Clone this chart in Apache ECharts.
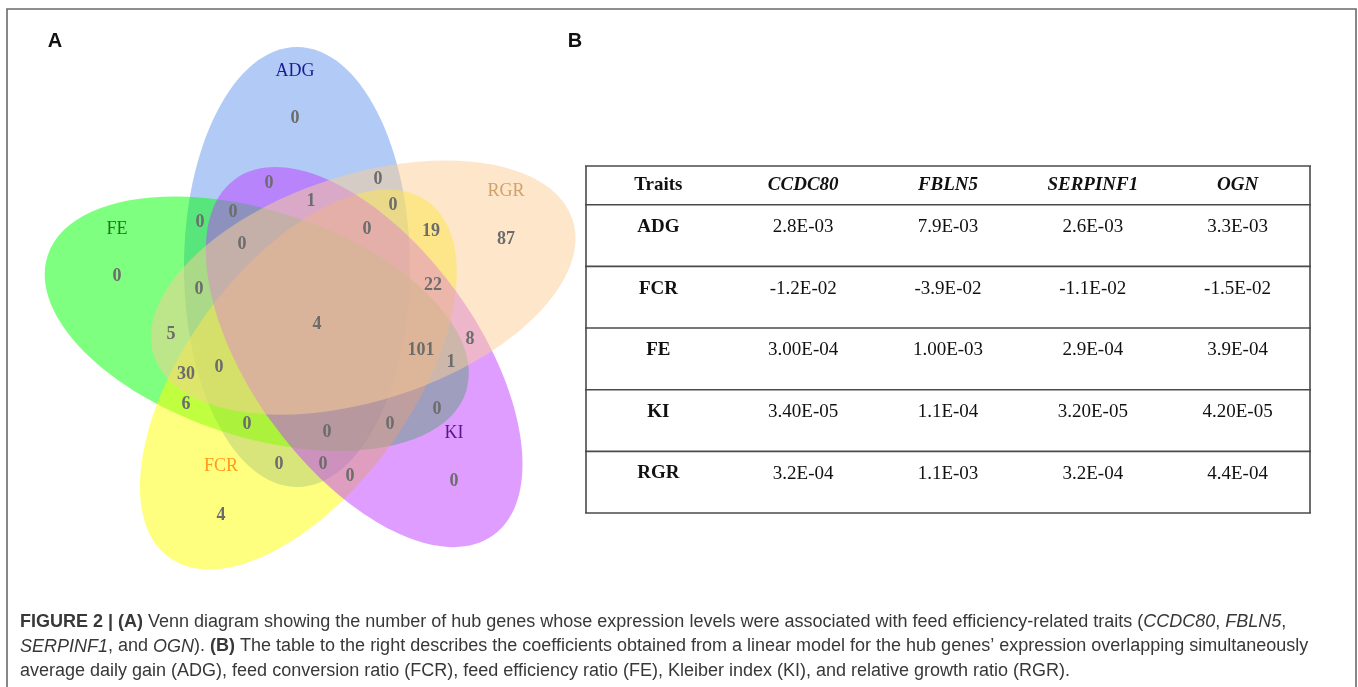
<!DOCTYPE html>
<html>
<head>
<meta charset="utf-8">
<script src="https://cdn.jsdelivr.net/npm/echarts@6/dist/echarts.min.js"></script>
<style>
html,body{margin:0;padding:0;background:#ffffff;}
#chart{width:1358px;height:687px;}
</style>
</head>
<body>
<div id="chart"></div>
<script>
// ---------------- DATA ----------------
// Venn sets (drawing order bottom -> top)
const setNames = ['ADG', 'FE', 'FCR', 'KI', 'RGR'];
const setRotations = [0, 288, 216, 144, 72];          // degrees, clockwise
// region counts (first five = set-only regions: ADG, RGR, KI, FCR, FE)
const regionCounts = [0, 87, 0, 4, 0,
  0, 0, 1, 0, 0, 0, 0, 19, 0, 22, 0, 4, 5, 8, 101, 1, 0, 30, 6, 0, 0, 0, 0, 0, 0, 0];
// table
const tableColumns = ['Traits', 'CCDC80', 'FBLN5', 'SERPINF1', 'OGN'];
const tableTraits = ['ADG', 'FCR', 'FE', 'KI', 'RGR'];
const coefCCDC80 = ['2.8E-03', '-1.2E-02', '3.00E-04', '3.40E-05', '3.2E-04'];
const coefFBLN5 = ['7.9E-03', '-3.9E-02', '1.00E-03', '1.1E-04', '1.1E-03'];
const coefSERPINF1 = ['2.6E-03', '-1.1E-02', '2.9E-04', '3.20E-05', '3.2E-04'];
const coefOGN = ['3.3E-03', '-1.5E-02', '3.9E-04', '4.20E-05', '4.4E-04'];
const captionLines = [
  '{b|FIGURE 2 | (A)} Venn diagram showing the number of hub genes whose expression levels were associated with feed efficiency-related traits ({i|CCDC80}, {i|FBLN5},',
  '{i|SERPINF1}, and {i|OGN}). {b|(B)} The table to the right describes the coefficients obtained from a linear model for the hub genes\u2019 expression overlapping simultaneously',
  'average daily gain (ADG), feed conversion ratio (FCR), feed efficiency ratio (FE), Kleiber index (KI), and relative growth ratio (RGR).'
];

// ---------------- LAYOUT / STYLE ----------------
const ellipseSemi = { major: 220, minor: 113 };
const ellipseOffset = [-19, 56];   // ADG ellipse centre relative to diagram centre (venn units, y up)
const setFill = {
  ADG: 'rgba(100,149,237,0.5)', RGR: 'rgba(252,206,150,0.5)', KI: 'rgba(191,62,255,0.5)',
  FCR: 'rgba(255,255,0,0.5)', FE: 'rgba(0,255,0,0.5)'
};
const setLabelColor = { ADG: '#1c1c96', RGR: '#cfa16c', KI: '#5a168a', FCR: '#ff9a1a', FE: '#197a19' };
const setLabelAnchors = { ADG: [-21, 252], RGR: [190, 132], KI: [138, -110], FCR: [-95, -143], FE: [-199, 94] };
const regionAnchors = [[-21, 205], [190, 84], [138, -158], [-95, -192], [-199, 47],
  [-47, 140], [62, 144], [-5, 122], [77, 118], [-83, 111], [-116, 101], [51, 94], [115, 92], [-74, 79],
  [117, 38], [-117, 34], [1, -1], [-145, -11], [154, -16], [105, -27], [135, -39], [-97, -44],
  [-130, -51], [-130, -81], [121, -86], [-69, -101], [74, -101], [11, -109], [-37, -141], [7, -141], [34, -153]];
const headerRowHeight = 39 / 62;   // in data-row units
const tableHeight = headerRowHeight + tableTraits.length;

// ---------------- BUILD ----------------
const ellipseData = setNames.map((n, i) => {
  const t = setRotations[i] * Math.PI / 180;
  const dx = ellipseOffset[0], dy = ellipseOffset[1];
  return [dx * Math.cos(t) + dy * Math.sin(t), -dx * Math.sin(t) + dy * Math.cos(t),
    ellipseSemi.minor, ellipseSemi.major, setRotations[i], i];
});
const setLabelData = setNames.map(n => setLabelAnchors[n].concat([setNames.indexOf(n)]));
const regionData = regionAnchors.map((p, i) => [p[0], p[1], regionCounts[i]]);

const coefColumns = [coefCCDC80, coefFBLN5, coefSERPINF1, coefOGN];
const cells = [];
tableColumns.forEach((c, ci) => cells.push({ col: ci, y: headerRowHeight / 2, text: c, kind: ci === 0 ? 'headFirst' : 'headGene' }));
tableTraits.forEach((t, ri) => {
  const y = headerRowHeight + ri + 0.36;
  cells.push({ col: 0, y: y, text: t, kind: 'trait' });
  coefColumns.forEach((arr, ci) => cells.push({ col: ci + 1, y: y, text: arr[ri], kind: 'value' }));
});
const rowLines = [0, headerRowHeight];
tableTraits.forEach((t, i) => rowLines.push(headerRowHeight + i + 1));

const serif = '"Liberation Serif","Times New Roman",serif';
const sans = '"Liberation Sans",Arial,Helvetica,sans-serif';

const chart = echarts.init(document.getElementById('chart'), null, { renderer: 'canvas' });
const option = {
  animation: false,
  backgroundColor: '#ffffff',
  grid: [
    { left: 0, top: 0, width: 600, height: 600 },
    { left: 586, top: 166, width: 724, height: 347 }
  ],
  xAxis: [
    { gridIndex: 0, type: 'value', min: -316, max: 284, show: false },
    { gridIndex: 1, type: 'category', data: tableColumns, show: false }
  ],
  yAxis: [
    { gridIndex: 0, type: 'value', min: -277, max: 323, show: false },
    { gridIndex: 1, type: 'value', min: 0, max: tableHeight, inverse: true, show: false }
  ],
  series: [
    {
      type: 'custom', xAxisIndex: 0, yAxisIndex: 0, silent: true,
      data: ellipseData,
      renderItem: function (params, api) {
        const c = api.coord([api.value(0), api.value(1)]);
        const s = api.size([api.value(2), api.value(3)]);
        const name = setNames[api.value(5)];
        return {
          type: 'ellipse', x: c[0], y: c[1], rotation: -api.value(4) * Math.PI / 180,
          shape: { cx: 0, cy: 0, rx: s[0], ry: s[1] },
          style: { fill: setFill[name], stroke: null }
        };
      }
    },
    {
      type: 'custom', xAxisIndex: 0, yAxisIndex: 0, silent: true,
      data: regionData,
      renderItem: function (params, api) {
        const c = api.coord([api.value(0), api.value(1)]);
        return {
          type: 'text', x: c[0], y: c[1],
          style: {
            text: String(regionCounts[params.dataIndex]), fill: '#6c6c6c',
            font: 'bold 18px ' + serif, align: 'center', verticalAlign: 'middle',
            textAlign: 'center', textVerticalAlign: 'middle'
          }
        };
      }
    },
    {
      type: 'custom', xAxisIndex: 0, yAxisIndex: 0, silent: true,
      data: setLabelData,
      renderItem: function (params, api) {
        const c = api.coord([api.value(0), api.value(1)]);
        const name = setNames[api.value(2)];
        return {
          type: 'text', x: c[0], y: c[1],
          style: {
            text: name, fill: setLabelColor[name],
            font: '18px ' + serif, align: 'center', verticalAlign: 'middle',
            textAlign: 'center', textVerticalAlign: 'middle'
          }
        };
      }
    },
    {
      type: 'custom', xAxisIndex: 1, yAxisIndex: 1, silent: true,
      data: rowLines.map(v => [0, v]),
      renderItem: function (params, api) {
        const y = api.coord([0, api.value(1)])[1];
        const cs = params.coordSys;
        return {
          type: 'line', shape: { x1: cs.x - 1, y1: y, x2: cs.x + cs.width + 1, y2: y },
          style: { stroke: '#4a4a4a', lineWidth: 1.6 }
        };
      }
    },
    {
      type: 'custom', xAxisIndex: 1, yAxisIndex: 1, silent: true,
      data: [[0, 0], [4, 0]],
      renderItem: function (params, api) {
        const cs = params.coordSys;
        const x = params.dataIndex === 0 ? cs.x : cs.x + cs.width;
        const y0 = api.coord([0, 0])[1];
        const y1 = api.coord([0, tableHeight])[1];
        return {
          type: 'line', shape: { x1: x, y1: y0, x2: x, y2: y1 },
          style: { stroke: '#4a4a4a', lineWidth: 1.6 }
        };
      }
    },
    {
      type: 'custom', xAxisIndex: 1, yAxisIndex: 1, silent: true,
      data: cells.map(c => [c.col, c.y]),
      renderItem: function (params, api) {
        const cell = cells[params.dataIndex];
        const c = api.coord([api.value(0), api.value(1)]);
        let font = '19px ' + serif;
        if (cell.kind === 'headFirst' || cell.kind === 'trait') font = 'bold 19px ' + serif;
        if (cell.kind === 'headGene') font = 'italic bold 19px ' + serif;
        return {
          type: 'text', x: c[0], y: c[1],
          style: {
            text: cell.text, fill: '#111111', font: font,
            align: 'center', verticalAlign: 'middle', textAlign: 'center', textVerticalAlign: 'middle'
          }
        };
      }
    }
  ],
  graphic: [
    { type: 'rect', silent: true, shape: { x: 7, y: 9, width: 1349, height: 700 },
      style: { fill: null, stroke: '#6a6a6a', lineWidth: 1.6 } },
    { type: 'text', silent: true, x: 55, y: 41,
      style: { text: 'A', font: 'bold 20px ' + sans, fill: '#111', align: 'center', verticalAlign: 'middle', textAlign: 'center', textVerticalAlign: 'middle' } },
    { type: 'text', silent: true, x: 575, y: 41,
      style: { text: 'B', font: 'bold 20px ' + sans, fill: '#111', align: 'center', verticalAlign: 'middle', textAlign: 'center', textVerticalAlign: 'middle' } }
  ].concat(captionLines.map((t, i) => ({
    type: 'text', silent: true, x: 20, y: 622 + i * 24.5,
    style: {
      text: t, font: '18px ' + sans, fill: '#383838', align: 'left', verticalAlign: 'middle',
      textAlign: 'left', textVerticalAlign: 'middle',
      rich: {
        b: { fontWeight: 'bold', fontSize: 18, fontFamily: sans, fill: '#383838', color: '#383838' },
        i: { fontStyle: 'italic', fontSize: 18, fontFamily: sans, fill: '#383838', color: '#383838' }
      }
    }
  })))
};
chart.setOption(option);
</script>
</body>
</html>
